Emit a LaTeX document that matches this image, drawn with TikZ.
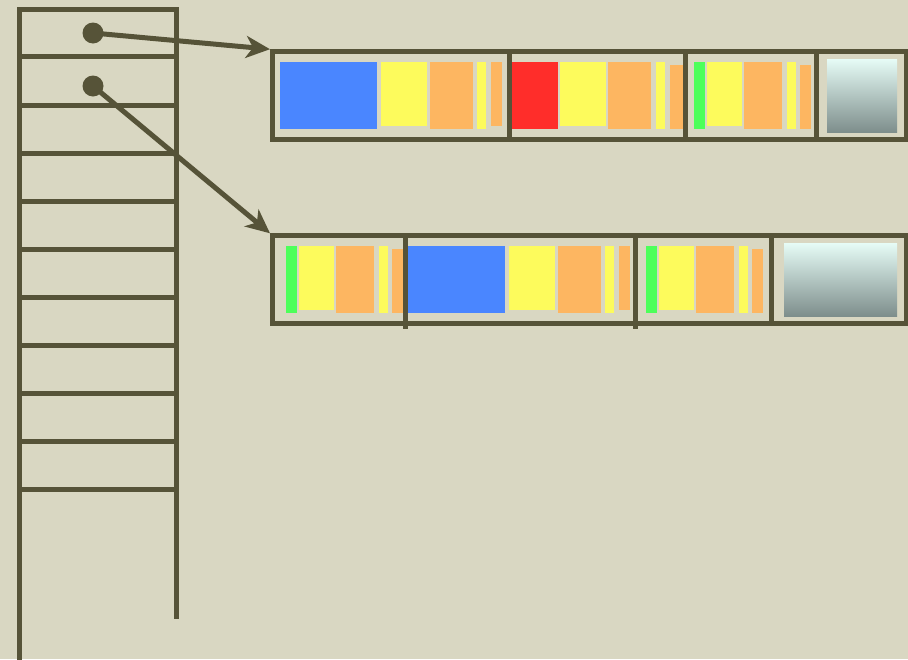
\documentclass[tikz,border=0pt]{standalone}
\usetikzlibrary{arrows.meta}
\definecolor{bgc}{HTML}{D9D7C2}
\definecolor{ink}{HTML}{565338}
\definecolor{cblue}{HTML}{4A86FF}
\definecolor{cyel}{HTML}{FDFB5C}
\definecolor{corg}{HTML}{FDB661}
\definecolor{cred}{HTML}{FF2D2A}
\definecolor{cgrn}{HTML}{4DFF5A}
\definecolor{gtop}{HTML}{E6FCF6}
\definecolor{gbot}{HTML}{7E8E8C}
\tikzset{
  ln/.style={draw=ink, line width=5pt},
  boxnode/.style={ln, rectangle, inner sep=0pt, outer sep=2.5pt, anchor=north west},
  dot/.style={circle, fill=ink, inner sep=0pt, minimum size=21pt},
  ptr/.style={ln, -{Stealth[length=24pt,width=22pt,inset=7pt]}},
}
\begin{document}
\begin{tikzpicture}[x=1pt,y=-1pt]
\fill[bgc] (0,0) rectangle (908,659);
\useasboundingbox (0,0) rectangle (908,659);

% stack column
\draw[ln, line join=miter] (19,670) -- (19,9.5) -- (176.5,9.5) -- (176.5,619);
\foreach \yy in {56.5,105,153,201,249,297,345,393,441,489}
  \draw[ln] (19,\yy) -- (176.5,\yy);

% ---------- top record blocks
\fill[cblue] (280,62) rectangle (377,129);
\fill[cyel]  (381,62) rectangle (427,125.7);
\fill[corg]  (430,62) rectangle (473,129);
\fill[cyel]  (477,62) rectangle (486,129);
\fill[corg]  (491,62) rectangle (502,125.7);
\fill[cred]  (512.3,62) rectangle (557.7,129);
\fill[cyel]  (560,62) rectangle (606,125.7);
\fill[corg]  (608,62) rectangle (651,129);
\fill[cyel]  (656,62) rectangle (665,129);
\fill[corg]  (670,65) rectangle (684,129);
\fill[cgrn]  (694,62) rectangle (705,129);
\fill[cyel]  (707,62) rectangle (742,125.7);
\fill[corg]  (744,62) rectangle (782,129);
\fill[cyel]  (787,62) rectangle (796,129);
\fill[corg]  (800,65) rectangle (811,129);
\shade[top color=gtop, bottom color=gbot] (827,59) rectangle (897,132);

\node[boxnode, minimum width=633.5pt, minimum height=87.3pt] (top) at (270,49.2) {};
\draw[ln] (509.5,51.7) -- (509.5,139);
\draw[ln] (685.5,51.7) -- (685.5,139);
\draw[ln] (816.7,51.7) -- (816.7,139);

% ---------- bottom record blocks
\fill[cgrn]  (286,246) rectangle (297,313);
\fill[cyel]  (299,246) rectangle (334,310);
\fill[corg]  (336,246) rectangle (374,313);
\fill[cyel]  (379,246) rectangle (388,313);
\fill[corg]  (392,249) rectangle (404,313);
\fill[cblue] (408,246) rectangle (505,313);
\fill[cyel]  (509,246) rectangle (555,310);
\fill[corg]  (558,246) rectangle (601,313);
\fill[cyel]  (605,246) rectangle (614,313);
\fill[corg]  (619,246) rectangle (630,310);
\fill[cgrn]  (646,246) rectangle (657,313);
\fill[cyel]  (659,246) rectangle (694,310);
\fill[corg]  (696,246) rectangle (734,313);
\fill[cyel]  (739,246) rectangle (748,313);
\fill[corg]  (752,249) rectangle (763,313);
\shade[top color=gtop, bottom color=gbot] (784,243) rectangle (897,316);

\node[boxnode, minimum width=633.5pt, minimum height=87.7pt] (bot) at (270,233.3) {};
\draw[ln] (405.7,235.8) -- (405.7,329);
\draw[ln] (635,235.8) -- (635,329);
\draw[ln] (771.5,235.8) -- (771.5,323.5);

% ---------- pointers
\node[dot] (d1) at (93,33) {};
\node[dot] (d2) at (93,86) {};
\draw[ptr] (d1.center) -- (top.north west);
\draw[ptr] (d2.center) -- (bot.north west);
\end{tikzpicture}
\end{document}
